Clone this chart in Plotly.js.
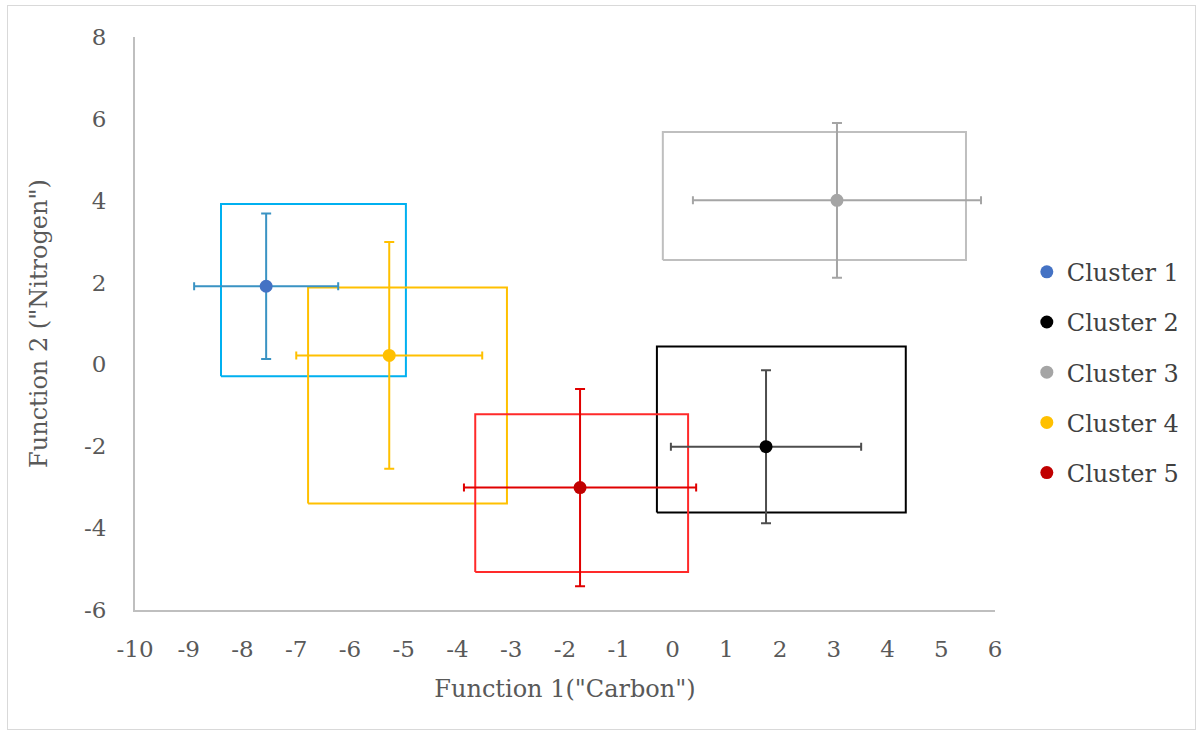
<!DOCTYPE html>
<html>
<head>
<meta charset="utf-8">
<script src="https://cdn.plot.ly/plotly-3.0.1.min.js"></script>
<style>
  html, body { margin: 0; padding: 0; background: #fff; }
  #wrap { position: relative; width: 1203px; height: 735px; }
  #frame { position: absolute; left: 7px; top: 5px; width: 1187px; height: 723px; border: 1px solid #d9d9d9; pointer-events: none; }
  #chart { position: absolute; left: 0; top: 0; width: 1203px; height: 735px; }
</style>
</head>
<body>
<div id="wrap">
  <div id="chart"></div>
  <div id="frame"></div>
</div>
<script>
// ---- data ----
const clusters = ["Cluster 1", "Cluster 2", "Cluster 3", "Cluster 4", "Cluster 5"];
const centerX = [-7.56, 1.74, 3.06, -5.27, -1.72];
const centerY = [1.91, -2.01, 4.01, 0.22, -3.01];
const errX = [1.34, 1.77, 2.68, 1.73, 2.16];
const errY = [1.78, 1.87, 1.89, 2.77, 2.41];
const boxX0 = [-8.40, -0.29, -0.18, -6.78, -3.67];
const boxX1 = [-4.96, 4.34, 5.46, -3.08, 0.29];
const boxY0 = [-0.29, -3.62, 2.55, -3.40, -5.07];
const boxY1 = [3.92, 0.44, 5.68, 1.88, -1.22];

const xTickVals = [-10, -9, -8, -7, -6, -5, -4, -3, -2, -1, 0, 1, 2, 3, 4, 5, 6];
const xTickText = ["-10", "-9", "-8", "-7", "-6", "-5", "-4", "-3", "-2", "-1", "0", "1", "2", "3", "4", "5", "6"];
const yTickVals = [-6, -4, -2, 0, 2, 4, 6, 8];
const yTickText = ["-6", "-4", "-2", "0", "2", "4", "6", "8"];

// ---- styles ----
const markerColors = ["#4472C4", "#000000", "#A5A5A5", "#FFC000", "#C00000"];
const errColors = ["#3A93C3", "#4D4D4D", "#A5A5A5", "#FFC000", "#E00000"];
const boxColors = ["#00B0F0", "#000000", "#BFBFBF", "#FFC000", "#FF2A2A"];
const drawOrder = [0, 1, 2, 3, 4];

const traces = [];
// boxes
drawOrder.forEach(i => {
  traces.push({
    type: "scatter", mode: "lines",
    x: [boxX0[i], boxX1[i], boxX1[i], boxX0[i], boxX0[i]],
    y: [boxY0[i], boxY0[i], boxY1[i], boxY1[i], boxY0[i]],
    line: { color: boxColors[i], width: 2 },
    showlegend: false, hoverinfo: "skip"
  });
});
// centroids with error bars
drawOrder.forEach(i => {
  traces.push({
    type: "scatter", mode: "markers",
    name: clusters[i],
    legendgroup: "g" + i,
    x: [centerX[i]], y: [centerY[i]],
    marker: { color: markerColors[i], size: 13 },
    error_x: { type: "constant", value: errX[i], color: errColors[i], thickness: 2, width: 4 },
    error_y: { type: "constant", value: errY[i], color: errColors[i], thickness: 2, width: 5 }
  });
});

const fam = "DejaVu Serif, Liberation Serif, serif";
const tickFont = { family: fam, size: 23, color: "#595959" };

const layout = {
  width: 1203, height: 735,
  paper_bgcolor: "rgba(0,0,0,0)", plot_bgcolor: "#fff",
  margin: { l: 135, r: 208, t: 37, b: 125 },
  showlegend: true,
  legend: {
    x: 1.037, xanchor: "left", y: 0.415, yanchor: "middle",
    font: { family: fam, size: 24, color: "#404040" },
    tracegroupgap: 16, itemwidth: 30
  },
  xaxis: {
    range: [-10, 6], tickmode: "array", tickvals: xTickVals, ticktext: xTickText,
    showgrid: false, zeroline: false,
    showline: true, linecolor: "#BFBFBF", linewidth: 2,
    ticks: "outside", ticklen: 17, tickcolor: "rgba(0,0,0,0)",
    tickfont: tickFont,
    title: { text: "Function 1(\"Carbon\")", font: { family: fam, size: 24, color: "#595959" }, standoff: 20 }
  },
  yaxis: {
    range: [-6, 8], tickmode: "array", tickvals: yTickVals, ticktext: yTickText,
    showgrid: false, zeroline: false,
    showline: true, linecolor: "#BFBFBF", linewidth: 2,
    ticks: "outside", ticklen: 22, tickcolor: "rgba(0,0,0,0)",
    tickfont: tickFont,
    title: { text: "Function 2 (\"Nitrogen\")", font: { family: fam, size: 24, color: "#595959" }, standoff: 30 }
  }
};

Plotly.newPlot("chart", traces, layout, { staticPlot: true, displayModeBar: false });
</script>
</body>
</html>
